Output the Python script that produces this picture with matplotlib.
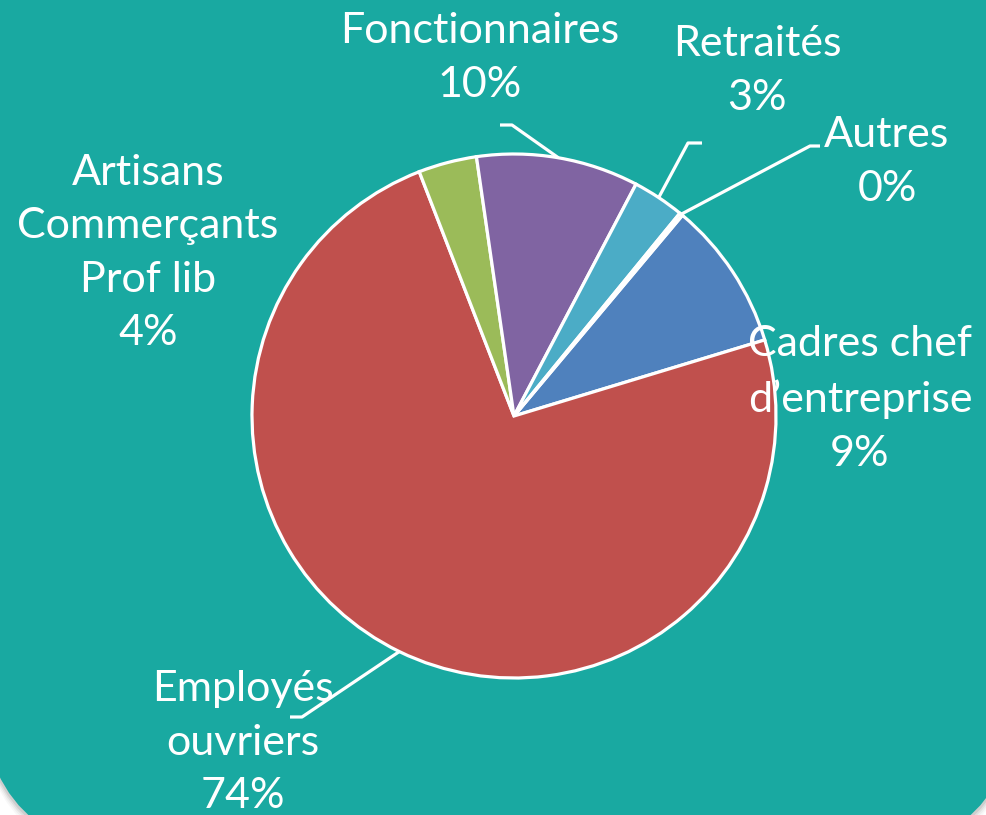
import numpy as np
import matplotlib
matplotlib.use("Agg")
import matplotlib.pyplot as plt
from matplotlib.patches import FancyBboxPatch

plt.rcParams['font.family'] = ['Lato', 'DejaVu Sans']

# données (répartition par catégorie socio-professionnelle)
categories = ["Cadres chef\nd’entreprise", "Employés\nouvriers",
              "Artisans\nCommerçants\nProf lib", "Fonctionnaires",
              "Retraités", "Autres"]
valeurs = [9.2, 73.8, 3.6, 10.0, 3.2, 0.2]
couleurs = ["#4F81BD", "#C0504D", "#9BBB59", "#8064A2", "#4BACC6", "#F79646"]

W, H = 986, 815
fig = plt.figure(figsize=(W / 100, H / 100), dpi=100)
fig.patch.set_facecolor("white")
ax = fig.add_axes([0, 0, 1, 1])

# fond arrondi avec ombre
for k, a in enumerate([0.04, 0.06, 0.09, 0.13]):
    d = 9 - 2 * k
    ombre = FancyBboxPatch((-20 - d * 0.3, -40 - d), 1039 + d * 0.6, 1100,
                           boxstyle="round,pad=0,rounding_size=176",
                           fc="#555555", ec="none", alpha=a, zorder=0)
    ax.add_patch(ombre)
fond = FancyBboxPatch((-20, -40), 1039, 1100,
                      boxstyle="round,pad=0,rounding_size=176",
                      fc="#19A9A1", ec="none", zorder=1)
ax.add_patch(fond)

cx, cy, r = 514, H - 416, 262
wedges, _ = ax.pie(valeurs, colors=couleurs, startangle=50, counterclock=False,
                   center=(cx, cy), radius=r, frame=True,
                   wedgeprops=dict(edgecolor="white", linewidth=2.3))
for w in wedges:
    w.set_zorder(2)

ax.set_xlim(0, W)
ax.set_ylim(0, H)
ax.set_aspect("equal")
ax.axis("off")

# position des étiquettes (x, y en pixels depuis le haut)
pos_etiq = [(860, 399), (243, 743), (148, 253), (480, 58), (757, 71), (887, 162)]
# coudes des lignes de rappel (None = pas de ligne)
coudes = [None, [(302, 717), (290, 717)], None,
          [(512, 125), (500, 125)], [(688, 143), (702, 143)],
          [(810, 146), (820, 146)]]

for i, (nom, v) in enumerate(zip(categories, valeurs)):
    x, y = pos_etiq[i]
    ax.text(x, H - y, f"{nom}\n{round(v)}%", ha="center", va="center",
            color="white", fontsize=31, fontweight="normal",
            linespacing=1.5, zorder=5)
    if coudes[i] is not None:
        w = wedges[i]
        ang = np.deg2rad((w.theta1 + w.theta2) / 2)
        pts = [(cx + r * np.cos(ang), cy + r * np.sin(ang))]
        pts += [(px, H - py) for px, py in coudes[i]]
        xs, ys = zip(*pts)
        ax.plot(xs, ys, color="white", lw=2.3, zorder=4, solid_capstyle="butt")

plt.savefig("out.png", dpi=100, facecolor="white")
plt.close()
